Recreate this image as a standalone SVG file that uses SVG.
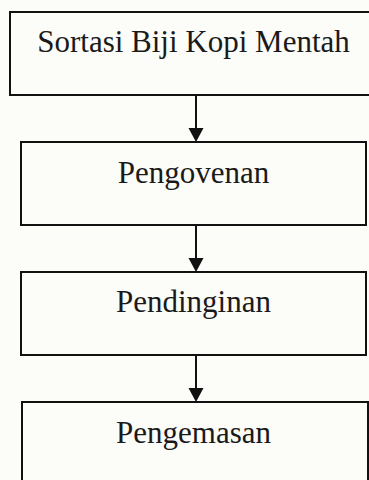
<svg xmlns="http://www.w3.org/2000/svg" width="369" height="480" viewBox="0 0 369 480">
  <defs>
    <style>
      .box { fill: none; stroke: #111; stroke-width: 2; }
      .lbl { font-family: "Liberation Serif", "Times New Roman", serif; font-size: 31px; fill: #1a1a1a; text-anchor: middle; }
      .edge { stroke: #111; stroke-width: 2; fill: none; }
      .head { fill: #111; }
    </style>
  </defs>
  <rect x="0" y="0" width="369" height="480" fill="#fcfcf8"/>
  <g id="node-sortasi">
    <rect class="box" x="10" y="12" width="372" height="83"/>
    <text class="lbl" x="193.5" y="52">Sortasi Biji Kopi Mentah</text>
  </g>
  <g id="node-pengovenan">
    <rect class="box" x="21" y="142" width="345" height="83"/>
    <text class="lbl" x="193.5" y="183">Pengovenan</text>
  </g>
  <g id="node-pendinginan">
    <rect class="box" x="21" y="272" width="345" height="83"/>
    <text class="lbl" x="193.5" y="312">Pendinginan</text>
  </g>
  <g id="node-pengemasan">
    <rect class="box" x="22" y="402" width="346" height="92"/>
    <text class="lbl" x="193.5" y="443">Pengemasan</text>
  </g>
  <g id="connectors">
    <line class="edge" x1="196" y1="95" x2="196" y2="130"/>
    <polygon class="head" points="188.5,128 203.5,128 196,142"/>
    <line class="edge" x1="196" y1="225" x2="196" y2="260"/>
    <polygon class="head" points="188.5,258 203.5,258 196,272"/>
    <line class="edge" x1="196" y1="355" x2="196" y2="390"/>
    <polygon class="head" points="188.5,388 203.5,388 196,402"/>
  </g>
</svg>
